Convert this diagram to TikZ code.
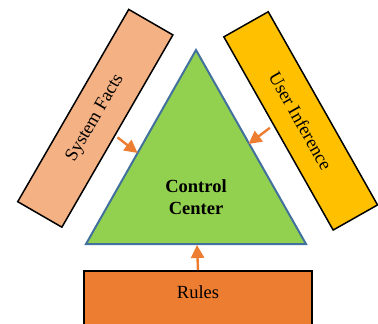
\documentclass[tikz,border=0pt]{standalone}
\usepackage{fontspec}
\setmainfont{Liberation Serif}
\usepackage{xcolor}
\usetikzlibrary{arrows.meta}
\definecolor{factsfill}{HTML}{F4B183}
\definecolor{userfill}{HTML}{FFC000}
\definecolor{rulesfill}{HTML}{ED7D31}
\definecolor{ctrlfill}{HTML}{92D050}
\definecolor{ctrlline}{HTML}{41719C}

\begin{document}
\begin{tikzpicture}[x=1pt,y=-1pt,font=\fontsize{18.5}{22}\selectfont,
  srcbox/.style={draw=black,line width=1.5pt,inner sep=0pt,
    minimum width=222pt,minimum height=51pt},
  feed/.style={draw=rulesfill,line width=2.4pt,
    -{Triangle[length=13pt,width=13pt,fill=rulesfill]}}]
  \useasboundingbox (0,0) rectangle (378,324);
  \node (facts) [srcbox,fill=factsfill,rotate=60] at (95.3,118.3) {System Facts};
  \node (user) [srcbox,fill=userfill,rotate=-60.5] at (300.7,120.9) {User Inference};
  \node (rules) [srcbox,fill=rulesfill,anchor=north,minimum width=228pt,
    minimum height=60pt,label={[anchor=center,yshift=-22pt]north:Rules}]
    at (198,270) {};
  \draw [draw=ctrlline,fill=ctrlfill,line width=2pt,line join=miter]
    (196,50) coordinate (top) -- (306,244) coordinate (br)
    -- (86,244) coordinate (bl) -- cycle;
  \node (ctrl) [align=center,font=\fontsize{18.5}{22}\selectfont\bfseries]
    at (196,197) {Control\\Center};
  \path (node cs:name=facts,anchor=south) +(-0.5,6) coordinate (sfo) {};
  \path (top) +(-58.4,103) coordinate (sfi) {};
  \draw [feed] (sfo) -- (sfi);
  \path (node cs:name=user,anchor=south) +(-8,-6) coordinate (uio) {};
  \path (top) +(52.5,94) coordinate (uii) {};
  \draw [feed] (uio) -- (uii);
  \path (node cs:name=rules,anchor=north) coordinate (ruo) {};
  \path (bl) +(111,1) coordinate (rui) {};
  \draw [feed] (ruo) -- (rui);
\end{tikzpicture}
\end{document}
